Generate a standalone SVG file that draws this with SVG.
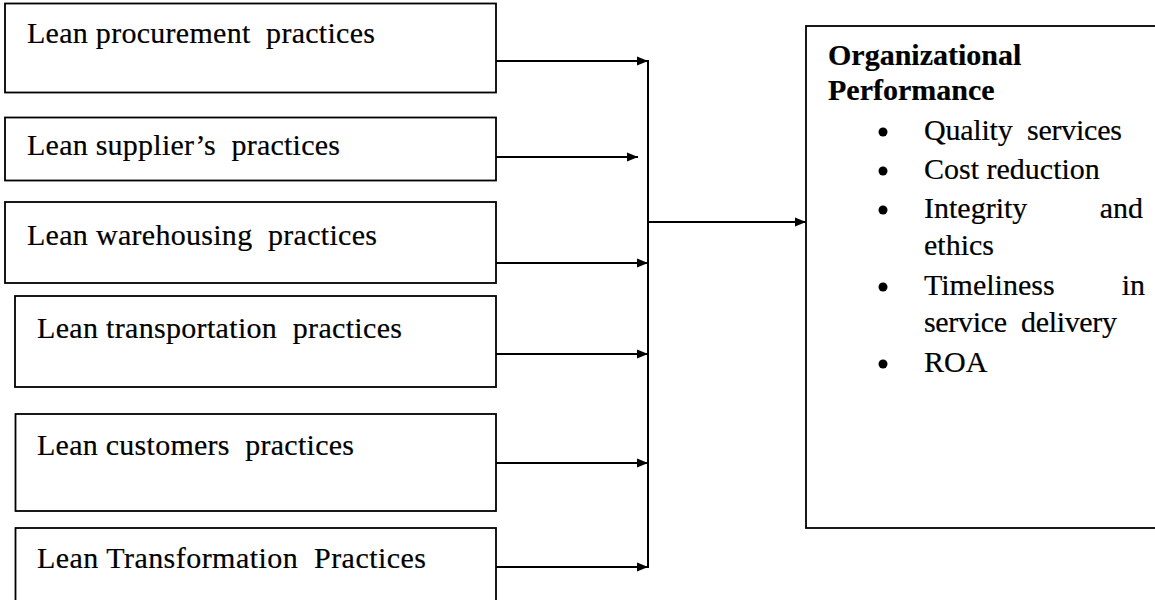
<svg xmlns="http://www.w3.org/2000/svg" width="1155" height="600" viewBox="0 0 1155 600">
<style>
.box{fill:#fff;stroke:#000;stroke-width:1.8}
.t{font-family:"Liberation Serif","Times New Roman",serif;font-size:30px;fill:#000;stroke:#000;stroke-width:0.2}
.b{font-weight:bold}
.ln{stroke:#000;stroke-width:2;fill:none}
</style>
<defs>
<marker id="ah" markerUnits="userSpaceOnUse" markerWidth="12" markerHeight="10" refX="11" refY="5" orient="auto">
<path d="M0,0.5 L11,5 L0,9.5 Z" fill="#000"/>
</marker>
</defs>
<rect width="1155" height="600" fill="#fff"/>
<g id="n1"><rect class="box" x="5" y="3.5" width="491" height="89"/><text class="t" x="27" y="43" textLength="348" xml:space="preserve">Lean procurement  practices</text></g>
<g id="n2"><rect class="box" x="5" y="117.5" width="491" height="63"/><text class="t" x="27" y="155" textLength="313" xml:space="preserve">Lean supplier’s  practices</text></g>
<g id="n3"><rect class="box" x="5" y="202" width="491" height="81"/><text class="t" x="27" y="245" textLength="350" xml:space="preserve">Lean warehousing  practices</text></g>
<g id="n4"><rect class="box" x="15" y="296" width="481" height="91"/><text class="t" x="37" y="338" textLength="365" xml:space="preserve">Lean transportation  practices</text></g>
<g id="n5"><rect class="box" x="15.5" y="414" width="480.5" height="97"/><text class="t" x="37" y="455" textLength="317" xml:space="preserve">Lean customers  practices</text></g>
<g id="n6"><rect class="box" x="15.5" y="528" width="480.5" height="100"/><text class="t" x="37" y="568" textLength="389" xml:space="preserve">Lean Transformation  Practices</text></g>
<g id="n7">
<rect class="box" x="806" y="26" width="360" height="502"/>
<text class="t b" x="828" y="65">Organizational</text>
<text class="t b" x="828" y="100">Performance</text>
<g fill="#000">
<circle cx="883" cy="132" r="4.5"/>
<circle cx="883" cy="171" r="4.5"/>
<circle cx="883" cy="210" r="4.5"/>
<circle cx="883" cy="287" r="4.5"/>
<circle cx="883" cy="364" r="4.5"/>
</g>
<text class="t" x="924" y="140" textLength="198" xml:space="preserve">Quality  services</text>
<text class="t" x="924" y="179">Cost reduction</text>
<text class="t" x="924" y="218">Integrity</text>
<text class="t" x="1143" y="218" text-anchor="end">and</text>
<text class="t" x="924" y="255">ethics</text>
<text class="t" x="924" y="295">Timeliness</text>
<text class="t" x="1145" y="295" text-anchor="end">in</text>
<text class="t" x="924" y="332" textLength="193" xml:space="preserve">service  delivery</text>
<text class="t" x="924" y="372">ROA</text>
</g>
<g id="connectors">
<line class="ln" x1="496" y1="61" x2="648" y2="61" marker-end="url(#ah)"/>
<line class="ln" x1="496" y1="157" x2="638" y2="157" marker-end="url(#ah)"/>
<line class="ln" x1="496" y1="263" x2="648" y2="263" marker-end="url(#ah)"/>
<line class="ln" x1="496" y1="354" x2="648" y2="354" marker-end="url(#ah)"/>
<line class="ln" x1="496" y1="463" x2="648" y2="463" marker-end="url(#ah)"/>
<line class="ln" x1="496" y1="567" x2="648" y2="567" marker-end="url(#ah)"/>
<line class="ln" x1="648" y1="60" x2="648" y2="568"/>
<line class="ln" x1="648" y1="222" x2="806" y2="222" marker-end="url(#ah)"/>
</g>
</svg>
